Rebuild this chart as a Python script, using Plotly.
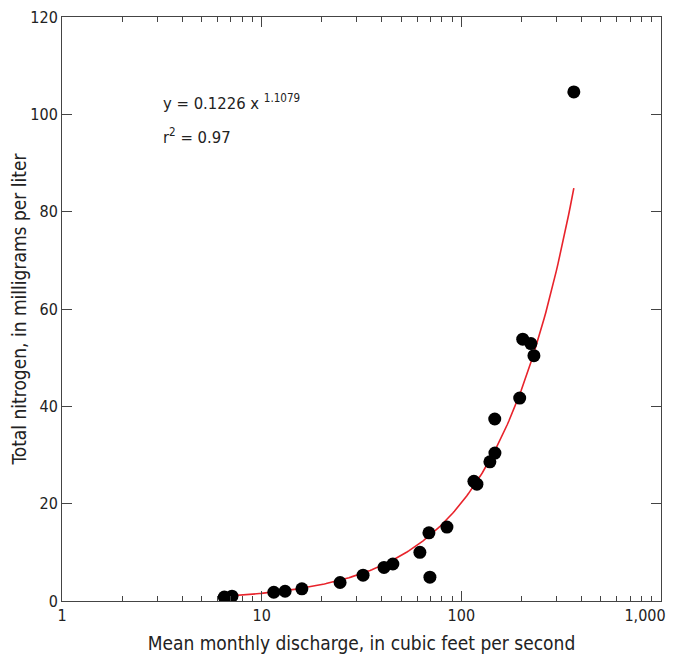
import numpy as np
import plotly.graph_objects as go

# Observed data (mean monthly discharge, cfs; total nitrogen, mg/L)
discharge = [6.5, 7.1, 11.5, 13.1, 15.9, 24.7, 32.2, 41.0, 45.4, 62.0, 68.8, 69.6,
             84.7, 115.6, 119.7, 139.0, 147.3, 147.0, 196.0, 203.0, 223.0, 231.0, 366.0]
nitrogen = [0.8, 1.0, 1.8, 2.0, 2.5, 3.8, 5.3, 6.9, 7.6, 10.0, 14.0, 4.9,
            15.2, 24.6, 24.0, 28.6, 30.4, 37.4, 41.7, 53.8, 52.9, 50.4, 104.6]

# Power-law fit parameters
coef_a = 0.1226
coef_b = 1.1079

x_tickvals = [1, 10, 100, 1000]
x_ticktext = ["1", "10", "100", "1,000" + "&nbsp;" * 7]
y_tickvals = [0, 20, 40, 60, 80, 100, 120]

minor_vals = [m * d for d in (1, 10, 100) for m in range(2, 10)]

xfit = np.logspace(np.log10(min(discharge)), np.log10(max(discharge)), 200)
yfit = coef_a * xfit ** coef_b

FONT = "DejaVu Sans Condensed, Liberation Sans, sans-serif"

fig = go.Figure()
fig.add_trace(go.Scatter(x=xfit, y=yfit, mode="lines",
                         line=dict(color="#e8232b", width=1.6), hoverinfo="skip"))
fig.add_trace(go.Scatter(x=discharge, y=nitrogen, mode="markers",
                         marker=dict(color="black", size=13, line=dict(width=0))))

fig.add_annotation(x=0.166, y=0.854, xref="paper", yref="paper", xanchor="left", yanchor="middle",
                   text="y = 0.1226 x <sup>1.1079</sup>", showarrow=False,
                   font=dict(family=FONT, size=16.5, color="#222"))
fig.add_annotation(x=0.166, y=0.796, xref="paper", yref="paper", xanchor="left", yanchor="middle",
                   text="r<sup>2</sup> = 0.97", showarrow=False,
                   font=dict(family=FONT, size=16.5, color="#222"))

fig.update_layout(
    width=670, height=656,
    margin=dict(l=54, r=17, t=9, b=63),
    paper_bgcolor="white", plot_bgcolor="white",
    showlegend=False,
    font=dict(family=FONT, size=16, color="#222"),
)
fig.update_xaxes(
    type="log", range=[0, 3], automargin=False, ticklabeloverflow="allow",
    tickmode="array", tickvals=x_tickvals, ticktext=x_ticktext,
    ticks="inside", ticklen=10, tickcolor="#444", tickwidth=1,
    minor=dict(ticks="inside", ticklen=5, tickcolor="#444", tickwidth=1,
               tickmode="array", tickvals=minor_vals, showgrid=False),
    showline=True, linecolor="#444", linewidth=1, mirror="allticks",
    showgrid=False, zeroline=False,
    title=dict(text="Mean monthly discharge, in cubic feet per second",
               font=dict(size=19), standoff=12),
    tickfont=dict(size=16),
)
fig.update_yaxes(
    range=[0, 120], automargin=False, ticklabeloverflow="allow",
    tickmode="array", tickvals=y_tickvals,
    ticks="inside", ticklen=10, tickcolor="#444", tickwidth=1,
    showline=True, linecolor="#444", linewidth=1, mirror="allticks",
    showgrid=False, zeroline=False,
    title=dict(text="Total nitrogen, in milligrams per liter", font=dict(size=19), standoff=6),
    tickfont=dict(size=16),
)

fig.write_html("out.html")
